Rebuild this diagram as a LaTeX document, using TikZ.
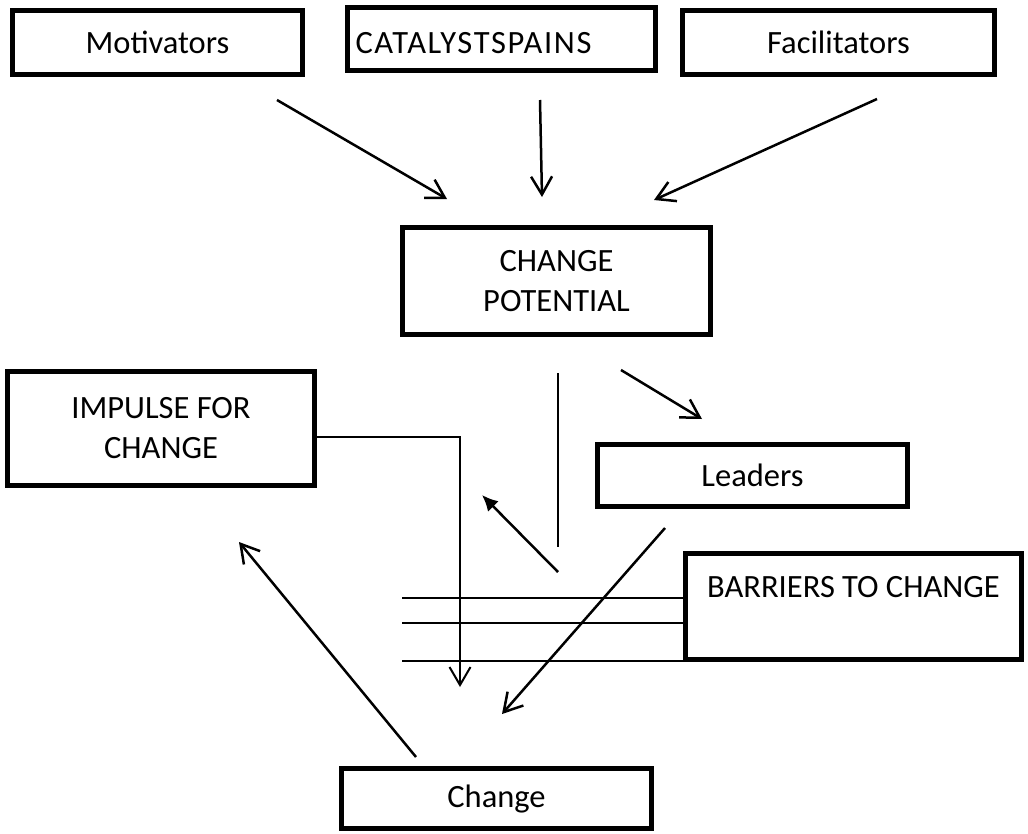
\documentclass[tikz,border=0pt]{standalone}
\usepackage{fontspec}
\setmainfont{Carlito}
\usetikzlibrary{arrows.meta}

\begin{document}
\begin{tikzpicture}[x=1pt, y=-1pt,
  box/.style={draw, line width=5pt, inner sep=0pt, align=center,
    font=\fontsize{32.5}{40}\selectfont},
  arr/.style={line width=2.5pt, -{Straight Barb[length=18pt,width=21pt]}},
  solidarr/.style={line width=2.5pt, -{Latex[length=16pt,width=15pt]}},
  thinline/.style={line width=1.3pt}]
\useasboundingbox (0,0) rectangle (1028,833);
% boxes
\node[box, minimum width=290, minimum height=64] (mot) at (157.5,42.5) {Motivators};
\node[box, minimum width=308, minimum height=63] (cat) at (501.5,39)
  {\raisebox{-4pt}[\height][\depth]{\makebox[292pt][l]{\addfontfeature{LetterSpace=5}CATALYSTSPAINS}}};
\node[box, minimum width=312, minimum height=64] (fac) at (838.5,42.5) {Facilitators};
\node[box, minimum width=308, minimum height=107] (pot) at (556.5,281) {CHANGE\\POTENTIAL};
\node[box, minimum width=307, minimum height=114] (imp) at (161,428.5) {IMPULSE FOR\\CHANGE};
\node[box, minimum width=310, minimum height=62] (lead) at (752.5,475.5) {Leaders};
\node[box, minimum width=336, minimum height=106] (bar) at (853.5,606.5) {BARRIERS TO CHANGE\\\mbox{}};
\node[box, minimum width=310, minimum height=60] (chg) at (496.5,798.5) {Change};
% arrow ends
\coordinate (m1) at (277,100);  \coordinate (m2) at (447,199);
\coordinate (c1) at (540,100);  \coordinate (c2) at (542,197);
\coordinate (f1) at (877,99);   \coordinate (f2) at (654,200);
\coordinate (p1) at (621,370);  \coordinate (p2) at (702,419);
\coordinate (v1) at (558,373);  \coordinate (v2) at (558,547);
\coordinate (u1) at (558,572);  \coordinate (u2) at (482,495);
\coordinate (l1) at (665,528);  \coordinate (l2) at (502,714);
\coordinate (h1) at (416,757);  \coordinate (h2) at (239,542);
\coordinate (i1) at (460,437);  \coordinate (i2) at (460,687);
\coordinate (b1) at (402,598);  \coordinate (b2) at (402,623);  \coordinate (b3) at (402,661);
% connectors
\draw[arr] (m1) -- (m2);
\draw[arr] (c1) -- (c2);
\draw[arr] (f1) -- (f2);
\draw[arr] (p1) -- (p2);
\draw[thinline] (v1) -- (v2);
\draw[solidarr] (u1) -- (u2);
\draw[arr] (l1) -- (l2);
\draw[arr] (h1) -- (h2);
\draw[thinline, -{Straight Barb[length=18pt,width=21pt,line width=2pt]}] (imp.east |- i1) -- (i1) -- (i2);
\draw[thinline] (b1) -- (b1 -| bar.west);
\draw[thinline] (b2) -- (b2 -| bar.west);
\draw[thinline] (b3) -- (b3 -| bar.west);
\end{tikzpicture}
\end{document}
